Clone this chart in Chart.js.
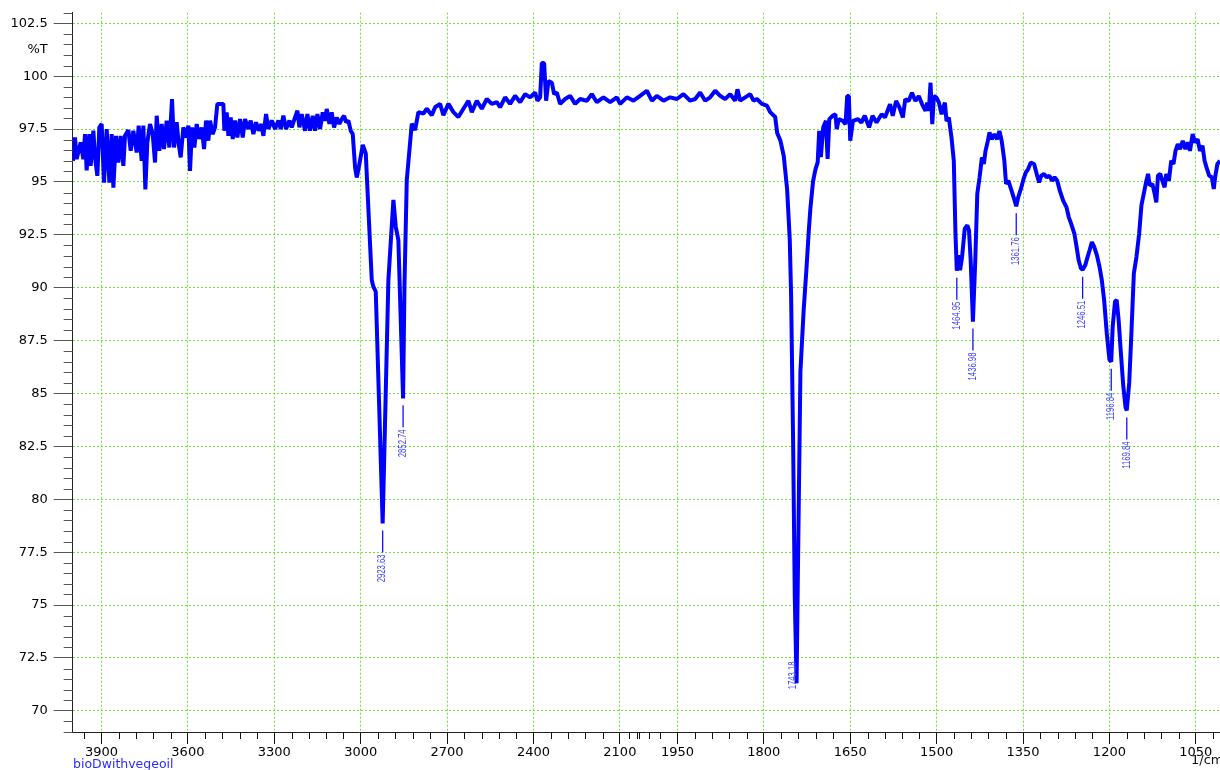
<!DOCTYPE html>
<html>
<head>
<meta charset="utf-8">
<title>bioDwithvegeoil</title>
<script src="https://cdn.jsdelivr.net/npm/chart.js@4.4.1/dist/chart.umd.min.js"></script>
<style>
  html, body { margin: 0; padding: 0; background: #fff; }
  #wrap { width: 1220px; height: 770px; overflow: hidden; }
</style>
</head>
<body>
<div id="wrap"><canvas id="spectrum" width="1220" height="770"></canvas></div>
<script>
// FTIR spectrum, wavenumber (1/cm) vs transmittance (%T)
const waveNumbers = [
  3999.0, 3992.0, 3986.2, 3972.3, 3963.1, 3957.3, 3951.5, 3942.2, 3937.6, 3928.3,
  3922.5, 3914.4, 3907.5, 3899.4, 3891.3, 3882.0, 3872.7, 3864.6, 3858.8, 3849.6,
  3841.5, 3833.4, 3824.1, 3818.4, 3806.7, 3798.6, 3789.4, 3777.8, 3770.9, 3760.4,
  3754.7, 3747.7, 3740.8, 3731.5, 3722.2, 3714.1, 3708.3, 3699.1, 3691.0, 3682.9,
  3673.6, 3664.4, 3655.1, 3648.1, 3638.9, 3631.9, 3625.0, 3615.7, 3606.4, 3598.4,
  3592.6, 3585.6, 3577.5, 3569.4, 3560.1, 3552.0, 3543.9, 3537.0, 3528.9, 3523.1,
  3513.8, 3505.7, 3497.6, 3488.4, 3476.8, 3473.3, 3465.2, 3459.4, 3451.3, 3444.3,
  3436.3, 3428.2, 3418.9, 3409.6, 3401.5, 3389.9, 3381.8, 3372.6, 3363.3, 3354.1,
  3344.8, 3337.8, 3328.6, 3320.5, 3308.9, 3297.3, 3285.7, 3277.6, 3268.4, 3259.1,
  3247.5, 3239.4, 3227.9, 3219.7, 3212.8, 3204.7, 3193.1, 3185.0, 3175.8, 3166.5,
  3158.4, 3150.3, 3141.0, 3131.8, 3123.7, 3117.9, 3108.6, 3100.5, 3092.4, 3083.1,
  3073.9, 3065.8, 3057.6, 3050.7, 3042.6, 3034.5, 3027.5, 3019.4, 3013.6, 3006.7,
  2992.7, 2982.3, 2961.5, 2955.9, 2947.6, 2903.8, 2886.4, 2878.1, 2869.1, 2848.0,
  2839.9, 2822.5, 2811.1, 2799.6, 2782.2, 2770.4, 2753.1, 2741.6, 2724.2, 2712.8,
  2695.4, 2678.0, 2660.7, 2643.3, 2625.9, 2614.1, 2596.7, 2579.4, 2562.0, 2544.6,
  2527.3, 2515.8, 2498.4, 2481.1, 2463.7, 2446.3, 2429.0, 2411.6, 2394.2, 2386.2,
  2376.9, 2371.0, 2363.0, 2356.0, 2348.0, 2336.2, 2328.3, 2318.9, 2307.4, 2290.0,
  2272.7, 2255.3, 2237.9, 2214.7, 2197.3, 2180.0, 2157.0, 2133.7, 2110.5, 2099.0,
  2075.7, 2052.8, 2029.5, 2006.3, 1994.4, 1985.8, 1974.3, 1962.7, 1951.0, 1939.6,
  1927.9, 1919.2, 1910.6, 1901.9, 1893.2, 1884.5, 1875.8, 1867.2, 1858.5, 1849.8,
  1845.8, 1841.1, 1832.4, 1823.7, 1818.0, 1812.1, 1803.4, 1794.7, 1789.0, 1780.3,
  1776.9, 1771.2, 1765.4, 1759.6, 1755.0, 1752.7, 1749.2, 1746.3, 1741.2, 1736.5,
  1730.8, 1726.2, 1722.1, 1719.2, 1714.6, 1710.6, 1706.5, 1703.9, 1701.0, 1696.9,
  1692.2, 1689.3, 1686.3, 1680.5, 1675.8, 1673.4, 1669.9, 1662.9, 1658.2, 1655.3,
  1652.4, 1650.0, 1645.3, 1636.5, 1630.7, 1624.8, 1617.2, 1611.3, 1604.3, 1595.5,
  1589.7, 1580.9, 1576.2, 1570.3, 1564.5, 1558.6, 1554.5, 1548.6, 1542.8, 1536.9,
  1531.0, 1525.2, 1519.3, 1516.4, 1513.5, 1510.6, 1507.6, 1504.7, 1500.0, 1496.0,
  1491.4, 1488.5, 1485.7, 1482.8, 1478.8, 1474.2, 1470.2, 1467.3, 1462.7, 1459.3,
  1455.8, 1451.2, 1446.7, 1443.8, 1440.9, 1432.9, 1429.4, 1425.4, 1421.4, 1418.0,
  1415.1, 1411.1, 1408.2, 1404.2, 1399.6, 1395.0, 1391.0, 1387.0, 1382.4, 1379.5,
  1375.5, 1370.9, 1366.4, 1358.3, 1353.7, 1349.1, 1345.1, 1341.1, 1336.5, 1330.8,
  1326.2, 1322.2, 1318.2, 1313.6, 1309.0, 1304.4, 1299.8, 1295.2, 1290.6, 1286.1,
  1280.3, 1274.6, 1270.6, 1266.5, 1260.8, 1257.4, 1253.4, 1249.4, 1241.9, 1237.9,
  1234.4, 1230.4, 1226.4, 1221.8, 1217.2, 1213.2, 1209.2, 1204.6, 1200.0, 1194.3,
  1190.3, 1187.4, 1184.0, 1180.5, 1175.9, 1172.0, 1165.6, 1161.6, 1157.6, 1153.0,
  1148.4, 1144.4, 1140.4, 1135.8, 1132.9, 1130.0, 1125.4, 1121.4, 1118.6, 1115.7,
  1111.7, 1108.2, 1104.2, 1101.3, 1096.8, 1092.7, 1088.7, 1085.3, 1081.3, 1077.3,
  1072.7, 1068.1, 1064.1, 1060.1, 1055.5, 1051.4, 1046.9, 1042.8, 1038.3, 1034.8,
  1031.4, 1026.8, 1022.2, 1018.8, 1016.5, 1012.5, 1008.0
];
const transmittance = [
  96.00, 97.10, 96.08, 96.87, 96.08, 97.26, 95.55, 97.26, 95.76, 97.42,
  96.16, 95.29, 97.58, 97.74, 94.97, 97.50, 94.97, 97.26, 94.73, 97.18,
  95.92, 97.18, 95.76, 97.18, 97.45, 96.47, 97.42, 96.39, 97.66, 96.00,
  97.66, 94.65, 96.87, 97.74, 97.26, 95.92, 98.13, 96.47, 97.74, 96.55,
  97.90, 96.63, 98.92, 96.63, 97.82, 96.79, 96.16, 97.58, 97.10, 97.66,
  95.52, 97.58, 96.63, 97.74, 97.03, 97.58, 96.55, 97.90, 96.95, 97.90,
  97.26, 97.58, 98.69, 98.69, 98.69, 97.42, 98.29, 97.18, 98.05, 97.03,
  97.90, 97.10, 97.97, 97.10, 97.97, 97.50, 97.90, 97.26, 97.82, 97.42,
  97.74, 97.18, 98.21, 97.50, 97.90, 97.50, 97.90, 97.50, 98.13, 97.50,
  97.90, 97.58, 98.05, 98.37, 97.58, 98.21, 97.42, 98.21, 97.42, 98.13,
  97.42, 98.21, 97.50, 98.29, 97.90, 98.45, 97.74, 98.29, 97.58, 98.05,
  97.74, 97.97, 98.13, 97.82, 97.90, 97.42, 97.26, 95.68, 95.21, 95.68,
  96.75, 96.35, 90.36, 90.05, 89.81, 90.36, 94.15, 92.88, 92.25, 90.05,
  95.10, 97.76, 97.45, 98.30, 98.23, 98.46, 98.15, 98.53, 98.69, 98.15,
  98.69, 98.30, 98.07, 98.46, 98.84, 98.30, 98.84, 98.46, 98.92, 98.69,
  98.77, 98.53, 99.00, 98.69, 99.07, 98.77, 99.15, 99.00, 99.23, 98.84,
  99.00, 100.62, 100.62, 98.84, 99.77, 99.69, 99.15, 99.23, 98.69, 98.92,
  99.07, 98.69, 98.92, 98.84, 99.15, 98.77, 99.00, 98.77, 99.00, 98.69,
  99.00, 98.84, 99.07, 99.31, 98.84, 99.07, 98.84, 99.00, 98.92, 99.15,
  98.84, 98.92, 99.23, 98.84, 99.00, 99.31, 99.07, 98.92, 99.15, 98.84,
  99.38, 98.84, 99.00, 99.15, 98.84, 98.92, 98.69, 98.61, 98.30, 98.07,
  97.32, 96.95, 96.22, 94.66, 92.27, 89.70, 82.74, 75.40, 75.77, 86.04,
  88.97, 90.81, 92.64, 93.74, 95.02, 95.57, 95.94, 97.42, 96.17, 97.58,
  97.89, 96.09, 97.97, 98.13, 98.20, 97.50, 97.97, 97.89, 97.73, 99.06,
  99.06, 96.95, 97.89, 97.97, 97.81, 98.13, 97.58, 98.13, 97.81, 98.20,
  98.05, 98.67, 98.13, 98.83, 98.52, 98.05, 98.91, 98.83, 99.22, 98.83,
  99.06, 98.67, 98.36, 98.75, 98.36, 99.69, 97.73, 99.06, 98.98, 98.75,
  98.20, 98.51, 98.75, 97.88, 98.04, 97.10, 96.00, 92.55, 91.54, 90.83,
  91.46, 92.79, 92.95, 92.71, 91.30, 91.30, 94.44, 95.22, 96.16, 95.85,
  96.47, 96.94, 97.34, 97.02, 97.26, 97.02, 97.41, 96.94, 96.00, 94.91,
  95.06, 94.67, 94.28, 94.28, 94.67, 95.14, 95.45, 95.61, 95.92, 95.85,
  95.38, 94.98, 95.30, 95.38, 95.22, 95.30, 95.06, 95.22, 95.06, 94.59,
  94.12, 93.81, 93.34, 93.03, 92.55, 92.00, 91.30, 90.91, 91.07, 91.46,
  91.77, 92.16, 91.93, 91.54, 90.99, 90.36, 89.42, 87.85, 86.60, 88.17,
  89.34, 89.42, 88.48, 87.07, 85.34, 84.35, 85.50, 88.01, 90.67, 91.46,
  92.55, 93.89, 94.44, 95.06, 95.38, 94.83, 94.91, 94.44, 94.04, 95.30,
  95.38, 95.06, 94.75, 95.38, 95.06, 96.00, 95.85, 96.47, 96.79, 96.55,
  96.94, 96.55, 96.87, 96.47, 97.26, 96.87, 97.02, 96.47, 96.71, 96.00,
  95.69, 95.30, 95.22, 94.67, 95.22, 95.85, 96.00
];

// labelled band minima
const peakWaves = [2923.63, 2852.74, 1743.18, 1464.95, 1436.98, 1361.76, 1246.51, 1196.84, 1169.84];
const peakValues = [78.86, 84.77, 71.30, 90.80, 88.40, 93.85, 90.85, 86.50, 84.20];

const xTickValues = [3900, 3600, 3300, 3000, 2700, 2400, 2100, 1950, 1800, 1650, 1500, 1350, 1200, 1050];
const yTickValues = [70, 72.5, 75, 77.5, 80, 82.5, 85, 87.5, 90, 92.5, 95, 97.5, 100, 102.5];
const unitTickValue = 101.25;
const yUnitLabel = '%T';
const xUnitLabel = '1/cm';
const sampleName = 'bioDwithvegeoil';

const gridGreen = 'rgb(110, 225, 60)';
const lineBlue = '#0000ff';

// minor axis ticks: 60 apart above 2000, 30 apart below
const xMinorTicks = [2067, 2033, 2000];
for (let w = 2040; w <= 3960; w += 60) if (!xTickValues.includes(w)) xMinorTicks.push(w);
for (let w = 1020; w <= 1980; w += 30) if (!xTickValues.includes(w)) xMinorTicks.push(w);
const yMinorTicks = [];
for (let v = 69; v <= 103; v += 0.5) if (v % 2.5 !== 0) yMinorTicks.push(v);

// wavenumber axis: the 4000-2000 half is drawn at half the scale of the part below 2000
const fold = w => (w >= 2000 ? (4000 - w) / 2 : 3000 - w);
const unfold = t => (t <= 1000 ? 4000 - 2 * t : 3000 - t);

class WaveScale extends Chart.LinearScale {
  getPixelForValue(value) {
    const t0 = fold(this.max), t1 = fold(this.min);
    return this.getPixelForDecimal((fold(value) - t0) / (t1 - t0));
  }
  getValueForPixel(pixel) {
    const t0 = fold(this.max), t1 = fold(this.min);
    return unfold(t0 + this.getDecimalForPixel(pixel) * (t1 - t0));
  }
}
WaveScale.id = 'wavenumber';
WaveScale.defaults = {};
Chart.register(WaveScale);

const points = waveNumbers
  .map((w, i) => ({ x: w, y: transmittance[i] }))
  .concat(peakWaves.map((w, i) => ({ x: w, y: peakValues[i] })))
  .sort((a, b) => b.x - a.x);

const overlay = {
  id: 'overlay',
  afterDraw(chart) {
    const { ctx, chartArea: a, scales: { x, y } } = chart;
    ctx.save();

    // minor ticks
    ctx.lineWidth = 1;
    ctx.strokeStyle = '#111';
    ctx.beginPath();
    xMinorTicks.forEach(w => {
      const px = Math.round(x.getPixelForValue(w)) + 0.5;
      ctx.moveTo(px, a.bottom);
      ctx.lineTo(px, a.bottom + 7);
    });
    ctx.stroke();
    ctx.strokeStyle = '#555';
    ctx.beginPath();
    yMinorTicks.forEach(v => {
      const py = Math.round(y.getPixelForValue(v)) + 0.5;
      ctx.moveTo(a.left - 9, py);
      ctx.lineTo(a.left, py);
    });
    ctx.stroke();

    // peak markers with rotated wavenumber labels
    ctx.font = '10px "Liberation Sans", Arial, sans-serif';
    ctx.textBaseline = 'middle';
    ctx.textAlign = 'left';
    peakWaves.forEach((w, i) => {
      const px = x.getPixelForValue(w);
      const py = y.getPixelForValue(peakValues[i]);
      const label = w.toFixed(2);
      const len = ctx.measureText(label).width * 0.77;
      let tx = px, ty;
      if (a.bottom - py > 60) {
        ctx.strokeStyle = '#1010ff';
        ctx.lineWidth = 1.3;
        ctx.beginPath();
        ctx.moveTo(px, py + 7);
        ctx.lineTo(px, py + 29);
        ctx.stroke();
        ty = py + 31 + len;
      } else {
        tx = px - 3;
        ty = py + 6;
      }
      ctx.save();
      ctx.translate(tx, ty);
      ctx.rotate(-Math.PI / 2);
      ctx.scale(0.77, 1);
      ctx.fillStyle = '#3a3aff';
      ctx.fillText(label, 0, 0);
      ctx.restore();
    });

    // sample name and axis unit
    ctx.textBaseline = 'middle';
    ctx.font = '12.5px "DejaVu Sans", sans-serif';
    ctx.fillStyle = '#2a2aff';
    ctx.fillText(sampleName, 73, 765);
    ctx.font = '13px "DejaVu Sans", sans-serif';
    ctx.fillStyle = '#111';
    ctx.fillText(xUnitLabel, 1191, 761);
    ctx.restore();
  }
};

const tickFont = { family: '"DejaVu Sans", sans-serif', size: 13 };

new Chart(document.getElementById('spectrum'), {
  type: 'line',
  data: {
    datasets: [{
      data: points,
      borderColor: lineBlue,
      borderWidth: 4,
      borderJoinStyle: 'bevel',
      pointRadius: 0,
      tension: 0,
      fill: false
    }]
  },
  options: {
    responsive: false,
    animation: false,
    parsing: false,
    layout: { padding: { top: 12.7, left: 0, right: 0, bottom: 0 } },
    plugins: { legend: { display: false }, tooltip: { enabled: false } },
    scales: {
      x: {
        type: 'wavenumber',
        min: 1008,
        max: 4000,
        bounds: 'data',
        afterBuildTicks: s => { s.ticks = xTickValues.map(v => ({ value: v })); },
        afterFit: s => { s.height = 38; s.paddingLeft = 0; s.paddingRight = 0; },
        ticks: {
          autoSkip: false, maxRotation: 0, minRotation: 0, padding: 1,
          color: '#000', font: tickFont, callback: v => String(v)
        },
        grid: { color: gridGreen, lineWidth: 1, tickLength: 12, tickColor: '#111', tickWidth: 1 },
        border: { color: '#222', width: 1, dash: [2, 2] }
      },
      y: {
        min: 69,
        max: 103,
        bounds: 'data',
        afterBuildTicks: s => {
          s.ticks = yTickValues.concat([unitTickValue]).sort((p, q) => p - q).map(v => ({ value: v }));
        },
        afterFit: s => { s.width = 72.7; s.paddingTop = 0; s.paddingBottom = 0; },
        ticks: {
          padding: 6, color: '#000', font: tickFont,
          callback: v => (v === unitTickValue ? yUnitLabel : String(v))
        },
        grid: {
          color: c => (c.tick && c.tick.value === unitTickValue ? 'rgba(0,0,0,0)' : gridGreen),
          tickColor: c => (c.tick && c.tick.value === unitTickValue ? 'rgba(0,0,0,0)' : '#555'),
          lineWidth: 1, tickLength: 19, tickWidth: 1
        },
        border: { color: '#222', width: 1, dash: [2, 2] }
      }
    }
  },
  plugins: [overlay]
});
</script>
</body>
</html>
